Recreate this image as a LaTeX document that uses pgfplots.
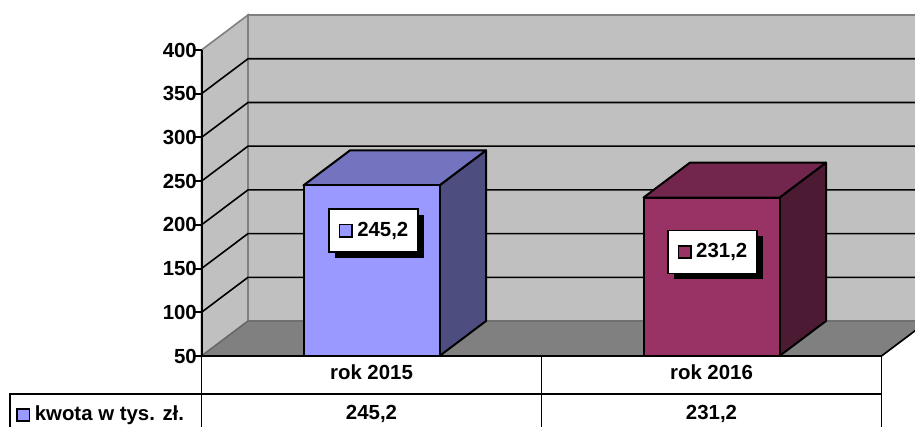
\documentclass[border=0pt]{standalone}
\usepackage{pgfplots}
\usepackage{fontspec}
\setmainfont{Liberation Sans}
\pgfplotsset{compat=1.18}
\definecolor{wall}{HTML}{C0C0C0}
\definecolor{floorc}{HTML}{808080}
\definecolor{bluefront}{HTML}{9999FF}
\definecolor{bluetop}{HTML}{7373BF}
\definecolor{blueside}{HTML}{4D4D80}
\definecolor{redfront}{HTML}{993366}
\definecolor{redtop}{HTML}{73264D}
\definecolor{redside}{HTML}{4D1A33}
\newcommand{\lab}{\fontsize{15.3}{18}\selectfont\bfseries}
\newcommand{\keybox}[1]{{\setlength{\fboxrule}{1.2pt}\setlength{\fboxsep}{0pt}\fcolorbox{black}{#1}{\rule{0pt}{8pt}\rule{8pt}{0pt}}}}
\begin{document}
\begin{tikzpicture}
\path[use as bounding box,clip] (0,0) rectangle (686.25pt,320.25pt);
\begin{axis}[
  at={(151.125pt,53.25pt)},anchor=south west,
  scale only axis,width=510pt,height=229.5pt,
  xmin=-0.5,xmax=1.5,ymin=50,ymax=400,
  clip=false,axis on top=true,
  axis x line=bottom,axis y line=left,
  axis line style={-,line width=1.5pt,black},
  ytick={50,100,150,200,250,300,350,400},
  xtick={0,1},xticklabels={rok 2015,rok 2016},
  major tick length=6pt,
  tick style={line width=1.5pt,black},
  xtick style={draw=none},
  tick align=outside,
  /pgf/number format/assume math mode=true,
  yticklabel style={font=\lab,xshift=2.5pt,inner sep=0pt,outer sep=0pt},
  xticklabel style={font=\lab,anchor=center,yshift=-6pt},
  ticklabel style={text=black},
]
% walls
\addplot[fill=wall,draw=floorc,line width=1.2pt] coordinates {(-0.5,50)(-0.3632,90)(-0.3632,440)(-0.5,400)} --cycle;
\addplot[fill=wall,draw=floorc,line width=1.2pt] coordinates {(-0.3632,90)(1.6368,90)(1.6368,440)(-0.3632,440)} --cycle;
% gridlines
\addplot[black,line width=1.2pt] coordinates {(-0.5,100)(-0.3632,140)(1.6368,140)};
\addplot[black,line width=1.2pt] coordinates {(-0.5,150)(-0.3632,190)(1.6368,190)};
\addplot[black,line width=1.2pt] coordinates {(-0.5,200)(-0.3632,240)(1.6368,240)};
\addplot[black,line width=1.2pt] coordinates {(-0.5,250)(-0.3632,290)(1.6368,290)};
\addplot[black,line width=1.2pt] coordinates {(-0.5,300)(-0.3632,340)(1.6368,340)};
\addplot[black,line width=1.2pt] coordinates {(-0.5,350)(-0.3632,390)(1.6368,390)};
% floor
\addplot[fill=floorc,draw=black!60,line width=1pt] coordinates {(-0.5,50)(-0.3632,90)(1.6368,90)(1.5,50)} --cycle;
\addplot[black,line width=1.2pt] coordinates {(1.5,50)(1.6368,90)};
% bar 2015
\addplot[fill=blueside,draw=black,line width=1.5pt,line join=round] coordinates {(0.2,50)(0.3368,90)(0.3368,285.2)(0.2,245.2)} --cycle;
\addplot[fill=bluetop,draw=black,line width=1.5pt,line join=round] coordinates {(-0.2,245.2)(-0.0632,285.2)(0.3368,285.2)(0.2,245.2)} --cycle;
\addplot[ybar,bar width=0.4,bar shift=0pt,fill=bluefront,draw=black,line width=1.5pt] coordinates {(0,245.2)};
% bar 2016
\addplot[fill=redside,draw=black,line width=1.5pt,line join=round] coordinates {(1.2,50)(1.3368,90)(1.3368,271.2)(1.2,231.2)} --cycle;
\addplot[fill=redtop,draw=black,line width=1.5pt,line join=round] coordinates {(0.8,231.2)(0.9368,271.2)(1.3368,271.2)(1.2,231.2)} --cycle;
\addplot[ybar,bar width=0.4,bar shift=0pt,fill=redfront,draw=black,line width=1.5pt] coordinates {(1,231.2)};
% table
\addplot[black,line width=1.3pt] coordinates {(-1.0632,-40)(-1.0632,6.54)(1.5,6.54)};
\addplot[black,line width=1.3pt] coordinates {(-0.5,50)(-0.5,-40)};
\addplot[black,line width=1.3pt] coordinates {(0.5,50)(0.5,-40)};
\addplot[black,line width=1.3pt] coordinates {(1.5,50)(1.5,-40)};
\node[font=\lab,inner sep=0pt] at (axis cs:0,-16.3) {245,2};
\node[font=\lab,inner sep=0pt] at (axis cs:1,-16.3) {231,2};
\node[font=\lab,inner sep=0pt,anchor=west] at (axis cs:-1.0456,-17.5) {\keybox{bluefront}\hspace{3.5pt}kwota w tys. zł.};
% data labels
\node[fill=black,minimum width=66.75pt,minimum height=32.25pt,inner sep=0pt,xshift=4.5pt,yshift=-4.5pt] at (axis cs:0.0059,193.5) {};
\node[fill=white,draw=black,line width=1.3pt,minimum width=66.75pt,minimum height=32.25pt,inner sep=0pt,font=\lab] at (axis cs:0.0059,193.5) {\keybox{bluefront}\hspace{3.5pt}245,2};
\node[fill=black,minimum width=66.75pt,minimum height=32.25pt,inner sep=0pt,xshift=4.5pt,yshift=-4.5pt] at (axis cs:1.0029,169) {};
\node[fill=white,draw=black,line width=1.3pt,minimum width=66.75pt,minimum height=32.25pt,inner sep=0pt,font=\lab] at (axis cs:1.0029,169) {\keybox{redfront}\hspace{3.5pt}231,2};
\end{axis}
\end{tikzpicture}
\end{document}
